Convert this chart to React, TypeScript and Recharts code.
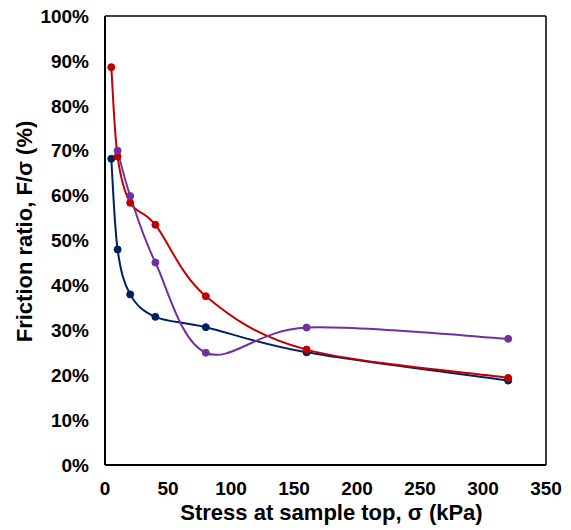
import React from "react";
import {
  LineChart,
  Line,
  XAxis,
  YAxis,
  Label,
  ReferenceLine,
} from "recharts";

// stress at sample top (kPa) and friction ratio (%) per test
const stressRed = [5, 10, 20, 40, 80, 160, 320];
const ratioRed = [88.6, 68.7, 58.4, 53.5, 37.6, 25.7, 19.4];

const stressNavy = [5, 10, 20, 40, 80, 160, 320];
const ratioNavy = [68.2, 48.0, 38.0, 33.0, 30.7, 25.1, 18.8];

const stressPurple = [10, 20, 40, 80, 160, 320];
const ratioPurple = [70.0, 59.9, 45.1, 25.0, 30.6, 28.1];

const xTicks = [0, 50, 100, 150, 200, 250, 300, 350];
const yTicks = [0, 10, 20, 30, 40, 50, 60, 70, 80, 90, 100];

const toPoints = (xs: number[], ys: number[]) =>
  xs.map((x, i) => ({ x, y: ys[i] }));

const redData = toPoints(stressRed, ratioRed);
const navyData = toPoints(stressNavy, ratioNavy);
const purpleData = toPoints(stressPurple, ratioPurple);

// spreadsheet-style smoothed line (catmull-rom as bezier)
const smoothCurve = (context: any) => {
  let pts: [number, number][] = [];
  return {
    areaStart() {},
    areaEnd() {},
    lineStart() {
      pts = [];
    },
    point(x: number, y: number) {
      pts.push([+x, +y]);
    },
    lineEnd() {
      const n = pts.length;
      if (n === 0) return;
      context.moveTo(pts[0][0], pts[0][1]);
      for (let i = 0; i < n - 1; i++) {
        const p0 = pts[Math.max(i - 1, 0)];
        const p1 = pts[i];
        const p2 = pts[i + 1];
        const p3 = pts[Math.min(i + 2, n - 1)];
        context.bezierCurveTo(
          p1[0] + (p2[0] - p0[0]) / 6,
          p1[1] + (p2[1] - p0[1]) / 6,
          p2[0] - (p3[0] - p1[0]) / 6,
          p2[1] - (p3[1] - p1[1]) / 6,
          p2[0],
          p2[1]
        );
      }
    },
  };
};

const FONT = "'Liberation Sans', Arial, sans-serif";
const tickStyle = { fontSize: 19, fontWeight: 700, fill: "#000", fontFamily: FONT };
const titleStyle = { fontSize: 22, fontWeight: 700, fill: "#000", fontFamily: FONT };

export default function App() {
  return (
    <div style={{ position: "absolute", left: 0, top: 0, width: 571, height: 530, background: "#fff" }}>
      <LineChart
        width={571}
        height={530}
        margin={{ top: 16, right: 25, bottom: 5, left: 0 }}
      >
        <XAxis
          type="number"
          dataKey="x"
          domain={[0, 350]}
          ticks={xTicks}
          tick={tickStyle}
          tickLine={false}
          tickSize={0}
          tickMargin={17}
          height={60}
          axisLine={{ stroke: "#000", strokeWidth: 2 }}
          allowDuplicatedCategory={false}
        >
          <Label
            value="Stress at sample top, σ (kPa)"
            position="insideBottom"
            offset={5}
            dx={6}
            style={titleStyle}
          />
        </XAxis>
        <YAxis
          type="number"
          domain={[0, 100]}
          ticks={yTicks}
          tickFormatter={(v: number) => `${v}%`}
          tick={tickStyle}
          tickLine={false}
          tickSize={0}
          tickMargin={16}
          width={105}
          axisLine={{ stroke: "#000", strokeWidth: 2 }}
        >
          <Label
            value="Friction ratio, F/σ (%)"
            position="center"
            angle={-90}
            dx={-28}
            dy={-9}
            style={{ ...titleStyle, textAnchor: "middle" }}
          />
        </YAxis>
        <ReferenceLine y={100} stroke="#000" strokeWidth={1.5} ifOverflow="extendDomain" />
        <ReferenceLine x={350} stroke="#000" strokeWidth={1.5} ifOverflow="extendDomain" />
        <Line
          data={navyData}
          dataKey="y"
          name="Navy series"
          type={smoothCurve as any}
          stroke="#002060"
          strokeWidth={2}
          dot={{ r: 3.5, fill: "#002060", stroke: "#002060", strokeWidth: 1 }}
          activeDot={false}
          isAnimationActive={false}
        />
        <Line
          data={redData}
          dataKey="y"
          name="Red series"
          type={smoothCurve as any}
          stroke="#C00000"
          strokeWidth={2}
          dot={{ r: 3.5, fill: "#C00000", stroke: "#C00000", strokeWidth: 1 }}
          activeDot={false}
          isAnimationActive={false}
        />
        <Line
          data={purpleData}
          dataKey="y"
          name="Purple series"
          type={smoothCurve as any}
          stroke="#7030A0"
          strokeWidth={2}
          dot={{ r: 3.5, fill: "#7030A0", stroke: "#7030A0", strokeWidth: 1 }}
          activeDot={false}
          isAnimationActive={false}
        />
      </LineChart>
    </div>
  );
}
